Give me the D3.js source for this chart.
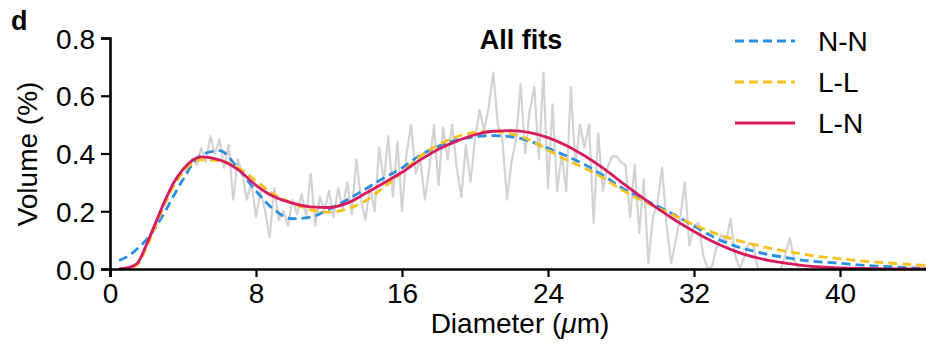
<!DOCTYPE html>
<html>
<head>
<meta charset="utf-8">
<script src="https://cdn.jsdelivr.net/npm/d3@7"></script>
<style>
  html, body { margin: 0; padding: 0; background: #fff; }
  svg { display: block; font-family: "Liberation Sans", Arial, sans-serif; }
</style>
</head>
<body>
<div id="chart"></div>
<script>
// measured volume distribution (grey), one value per 0.25 um bin from 1.5 um
const grayStart = 1.5, grayStep = 0.25;
const grayY = [
  0.02, 0.05, 0.08, 0.12, 0.16, 0.20, 0.23, 0.27, 0.30, 0.31,
  0.35, 0.33, 0.38, 0.36, 0.42, 0.37, 0.46, 0.40, 0.45, 0.35,
  0.43, 0.24, 0.38, 0.33, 0.24, 0.30, 0.18, 0.27, 0.20, 0.11,
  0.28, 0.17, 0.20, 0.15, 0.24, 0.19, 0.26, 0.18, 0.33, 0.15,
  0.25, 0.20, 0.27, 0.18, 0.28, 0.21, 0.30, 0.19, 0.38, 0.24,
  0.17, 0.29, 0.20, 0.42, 0.30, 0.46, 0.25, 0.44, 0.20, 0.40,
  0.50, 0.33, 0.38, 0.24, 0.35, 0.50, 0.29, 0.49, 0.38, 0.50,
  0.35, 0.25, 0.43, 0.30, 0.45, 0.55, 0.48, 0.56, 0.68, 0.50,
  0.45, 0.24, 0.37, 0.45, 0.64, 0.40, 0.55, 0.63, 0.38, 0.68,
  0.28, 0.57, 0.27, 0.40, 0.27, 0.63, 0.36, 0.50, 0.42, 0.50,
  0.16, 0.47, 0.27, 0.35, 0.39, 0.39, 0.37, 0.36, 0.18, 0.36,
  0.125, 0.31, 0.02, 0.18, 0.23, 0.35, 0.15, 0.02, 0.10, 0.18,
  0.30, 0.08, 0.15, 0.16, 0.05, 0.00, 0.01, 0.08, 0.12, 0.09,
  0.175, 0.05, 0.00, 0.04, 0.09, 0.085, 0.00, 0.00, 0.00, 0.00,
  0.00, 0.00, 0.05, 0.107, 0.03, 0.00, 0.00
];
const grayX = grayY.map((_, i) => grayStart + i * grayStep);

// fitted curves
const fitX = [0.5, 1, 1.5, 2, 2.5, 3, 3.5, 4, 5, 6, 7, 8, 9, 10, 11, 12, 13, 14, 15,
  16, 17, 18, 19, 20, 21, 22, 23, 24, 25, 26, 27, 28, 29, 30, 31, 32, 33, 34, 35,
  36, 37, 38, 39, 40, 41, 42, 43, 44, 45];
const nnY = [0.03, 0.045, 0.07, 0.102, 0.145, 0.197, 0.255, 0.31, 0.395, 0.41, 0.35,
  0.27, 0.205, 0.174, 0.18, 0.207, 0.24, 0.277, 0.315, 0.35, 0.394, 0.425, 0.447,
  0.458, 0.462, 0.458, 0.443, 0.418, 0.392, 0.362, 0.325, 0.283, 0.248, 0.218,
  0.185, 0.149, 0.113, 0.085, 0.066, 0.051, 0.04, 0.03, 0.024, 0.02, 0.014, 0.01,
  0.007, 0.004, 0.002];
const llY = [0, 0.002, 0.016, 0.075, 0.15, 0.225, 0.29, 0.335, 0.378, 0.375, 0.352,
  0.305, 0.258, 0.228, 0.205, 0.197, 0.208, 0.236, 0.283, 0.335, 0.39, 0.43, 0.458,
  0.473, 0.477, 0.468, 0.447, 0.412, 0.378, 0.35, 0.316, 0.276, 0.242, 0.212,
  0.183, 0.153, 0.127, 0.106, 0.089, 0.074, 0.062, 0.051, 0.042, 0.036, 0.029,
  0.024, 0.019, 0.015, 0.011];
const lnY = [0, 0.005, 0.02, 0.085, 0.16, 0.235, 0.3, 0.345, 0.388, 0.378, 0.345,
  0.29, 0.25, 0.228, 0.215, 0.213, 0.228, 0.262, 0.298, 0.335, 0.378, 0.415, 0.443,
  0.465, 0.477, 0.479, 0.472, 0.455, 0.428, 0.392, 0.35, 0.302, 0.255, 0.21,
  0.168, 0.13, 0.096, 0.068, 0.046, 0.031, 0.02, 0.012, 0.007, 0.004, 0.002,
  0.001, 0, 0, 0];

const xTicks = [0, 8, 16, 24, 32, 40];
const yTicks = [0, 0.2, 0.4, 0.6, 0.8];
const seriesNames = ["N-N", "L-L", "L-N"];
const seriesColors = ["#2b8fe3", "#f8c21b", "#d81b60"];
const seriesDash = ["9,5", "9,5", null];
const seriesY = [nnY, llY, lnY];

const W = 926, H = 344;
const svg = d3.select("#chart").append("svg")
  .attr("width", W).attr("height", H);

const x = d3.scaleLinear().domain([0, 45]).range([110, 931.25]);
const y = d3.scaleLinear().domain([0, 0.8]).range([269, 38]);

svg.append("defs").append("clipPath").attr("id", "plot")
  .append("rect").attr("x", 110).attr("y", 0).attr("width", W - 110).attr("height", 269);

const plot = svg.append("g").attr("clip-path", "url(#plot)");

plot.append("path")
  .datum(grayX.map((d, i) => [d, grayY[i]]))
  .attr("fill", "none")
  .attr("stroke", "#d3d3d3")
  .attr("stroke-width", 2.2)
  .attr("stroke-linejoin", "round")
  .attr("d", d3.line().x(d => x(d[0])).y(d => y(d[1])));

const fitLine = d3.line().x(d => x(d[0])).y(d => y(d[1])).curve(d3.curveMonotoneX);

seriesY.forEach((vals, k) => {
  plot.append("path")
    .datum(fitX.map((d, i) => [d, vals[i]]))
    .attr("fill", "none")
    .attr("stroke", seriesColors[k])
    .attr("stroke-width", 2.8)
    .attr("stroke-dasharray", seriesDash[k])
    .attr("d", fitLine);
});

// axes
const xAxis = svg.append("g")
  .attr("transform", "translate(0,269)")
  .call(d3.axisBottom(x).tickValues(xTicks).tickSizeOuter(0).tickSize(8).tickPadding(6));
const yAxis = svg.append("g")
  .attr("transform", "translate(110,0)")
  .call(d3.axisLeft(y).tickValues(yTicks).tickFormat(d3.format(".1f")).tickSizeOuter(0).tickSize(9).tickPadding(6));

[xAxis, yAxis].forEach(a => {
  a.select(".domain").attr("stroke", "#000").attr("stroke-width", 2.6);
  a.selectAll(".tick line").attr("stroke", "#000").attr("stroke-width", 2.2);
  a.selectAll(".tick text").attr("fill", "#000")
    .style("font-size", "28px").style("font-family", "'Liberation Sans', Arial, sans-serif");
});
yAxis.selectAll(".tick text").attr("dy", "0.36em");

// titles
svg.append("text")
  .attr("x", 520).attr("y", 333)
  .attr("text-anchor", "middle")
  .style("font-size", "28px")
  .html('Diameter (<tspan font-style="italic">\u03bc</tspan>m)');

svg.append("text")
  .attr("transform", "translate(37,154) rotate(-90)")
  .attr("text-anchor", "middle")
  .style("font-size", "28px")
  .text("Volume (%)");

svg.append("text")
  .attr("x", 521).attr("y", 49)
  .attr("text-anchor", "middle")
  .style("font-size", "27px").style("font-weight", "bold")
  .text("All fits");

svg.append("text")
  .attr("x", 11).attr("y", 30)
  .style("font-size", "27px").style("font-weight", "bold")
  .text("d");

// legend
const legend = svg.append("g");
seriesNames.forEach((name, k) => {
  const ly = 41 + k * 41;
  legend.append("line")
    .attr("x1", 735).attr("x2", 795).attr("y1", ly).attr("y2", ly)
    .attr("stroke", seriesColors[k]).attr("stroke-width", 2.8)
    .attr("stroke-dasharray", seriesDash[k]);
  legend.append("text")
    .attr("x", 818).attr("y", ly).attr("dy", "0.36em")
    .style("font-size", "28px")
    .text(name);
});
</script>
</body>
</html>
